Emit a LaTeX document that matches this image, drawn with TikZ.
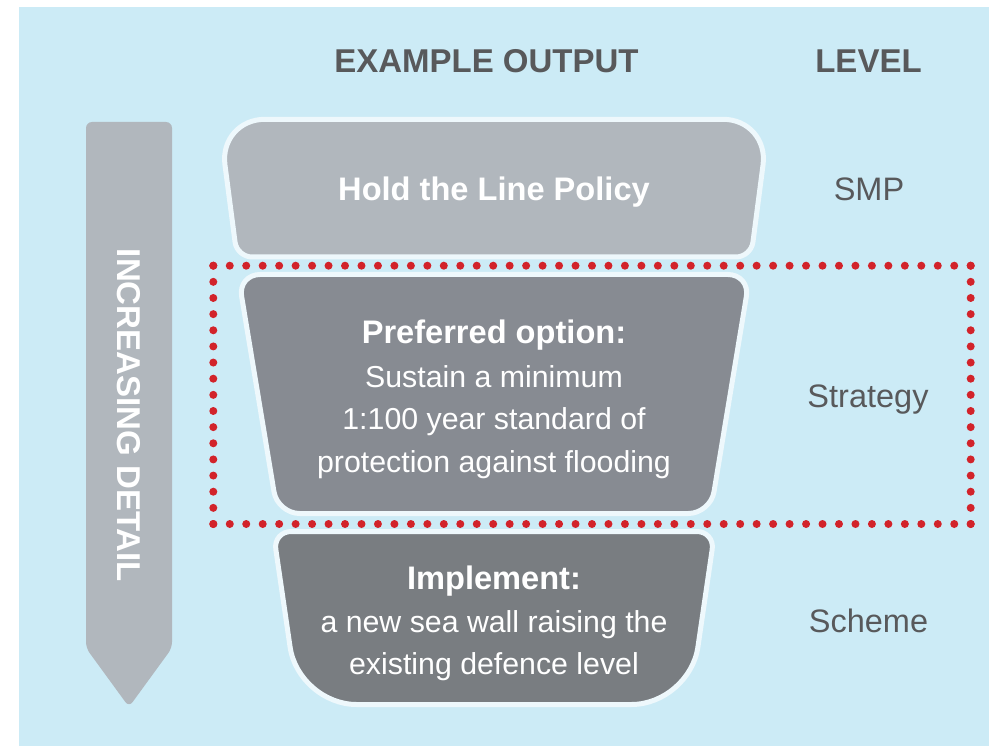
\documentclass[tikz,border=0pt]{standalone}
\usepackage{fontspec}
\setmainfont{Liberation Sans}
\usetikzlibrary{calc}

\definecolor{skyback}{RGB}{204,235,246}
\definecolor{stageedge}{RGB}{238,248,252}
\definecolor{smpgrey}{RGB}{177,183,189}
\definecolor{strategygrey}{RGB}{135,139,146}
\definecolor{schemegrey}{RGB}{121,125,129}
\definecolor{labelgrey}{RGB}{88,89,91}
\definecolor{dotred}{RGB}{210,35,42}

\newcommand\DotSide[3]{% from, to, number of gaps
  \foreach \i in {0,...,#3}
    \fill[dotred] ($(#1)!\i/#3!(#2)$) circle (4pt);
}

\tikzset{
  stage/.style={draw=stageedge, line width=5, line join=round},
  head text/.style={font=\bfseries\fontsize{33}{40}\selectfont, text=labelgrey, anchor=base, inner sep=0pt},
  level text/.style={font=\fontsize{32.5}{40}\selectfont, text=labelgrey, anchor=base, inner sep=0pt},
  stage head/.style={font=\bfseries\fontsize{32.6}{40}\selectfont, text=white, anchor=base, inner sep=0pt},
  stage line/.style={font=\fontsize{30.3}{40}\selectfont, text=white, anchor=base, inner sep=0pt}
}

\begin{document}
\begin{tikzpicture}[x=1pt,y=-1pt]
	%% frame and background
	\useasboundingbox (0,0) rectangle (989,746);
	\fill[skyback] (19,7) rectangle (989,746);

	\def\mid{494} % axis of the funnel

	%% arrow on the left
	\fill[smpgrey, rounded corners=6] (86,122) -- (172,122) -- (172,648) -- (129,707) -- (86,648) -- cycle;
	\node[rotate=-90, inner sep=0pt, text=white, font=\bfseries\fontsize{33}{40}\selectfont] (detail) at (129,415.5) {INCREASING DETAIL};

	%% headings
	\node[head text] (output) at (486.5,73) {EXAMPLE OUTPUT};
	\node[head text] (level) at (868.5,73) {LEVEL};

	%% funnel stages
	\draw[stage, fill=smpgrey] (\mid,257) [rounded corners=15] -- (237,257) [rounded corners=46] -- (219,119.3)
	  -- (769,119.3) [rounded corners=15] -- (751,257) -- cycle;
	\draw[stage, fill=strategygrey, rounded corners=22] (238,274.5) -- (750,274.5) -- (710.4,513.5) -- (277.6,513.5) -- cycle;
	\draw[stage, fill=schemegrey] (\mid,531.5) [rounded corners=18] -- (714.8,531.5) [rounded corners=58] -- (689.5,704.5)
	  -- (298.5,704.5) [rounded corners=18] -- (273.2,531.5) -- cycle;

	%% stage texts
	\node[stage head] (smp text) at (\mid,201) {Hold the Line Policy};
	\node[stage head] (strategy head) at (\mid,343.3) {Preferred option:};
	\node[stage line] (strategy one) at (\mid,387.3) {Sustain a minimum};
	\node[stage line] (strategy two) at (\mid,429.5) {1:100 year standard of};
	\node[stage line] (strategy three) at (\mid,472.7) {protection against flooding};
	\node[stage head] (scheme head) at (\mid,589) {Implement:};
	\node[stage line] (scheme one) at (\mid,632) {a new sea wall raising the};
	\node[stage line] (scheme two) at (\mid,674) {existing defence level};

	%% levels
	\node[level text] (smp) at (869,201) {SMP};
	\node[level text] (strategy) at (868,407) {Strategy};
	\node[level text] (scheme) at (868.5,632) {Scheme};

	%% red dotted frame round the strategy level
	\coordinate (dotNW) at (213.3,265.7);
	\coordinate (dotNE) at (970.7,265.7);
	\coordinate (dotSE) at (970.7,524);
	\coordinate (dotSW) at (213.3,524);
	\DotSide{dotNW}{dotNE}{46}
	\DotSide{dotNE}{dotSE}{16}
	\DotSide{dotSE}{dotSW}{46}
	\DotSide{dotSW}{dotNW}{16}
\end{tikzpicture}
\end{document}
